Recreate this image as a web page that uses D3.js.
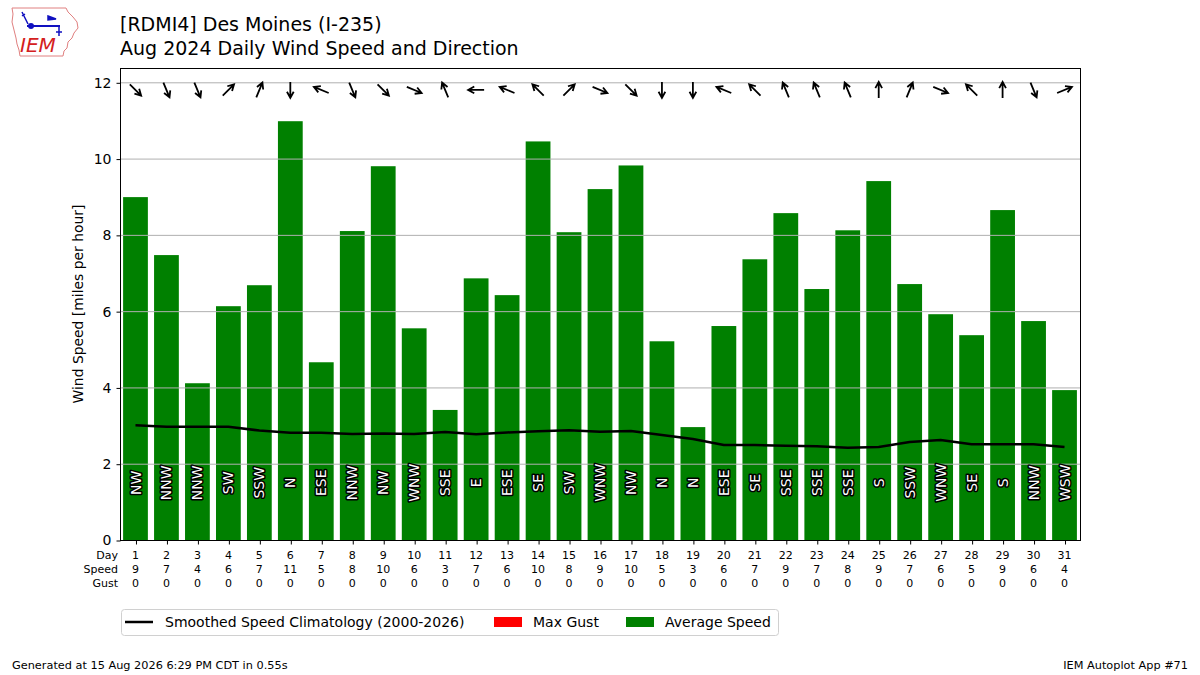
<!DOCTYPE html>
<html>
<head>
<meta charset="utf-8">
<script src="https://cdn.jsdelivr.net/npm/d3@7"></script>
<style>
  body { margin: 0; background: #fff; }
  text { font-family: "DejaVu Sans", sans-serif; }
</style>
</head>
<body>
<div id="chart-area"></div>
<script>
// Data
const days = [1, 2, 3, 4, 5, 6, 7, 8, 9, 10, 11, 12, 13, 14, 15, 16,
  17, 18, 19, 20, 21, 22, 23, 24, 25, 26, 27, 28, 29, 30, 31]
const avgSpeed = [8.99, 7.47, 4.11, 6.13, 6.68, 10.98, 4.66, 8.10, 9.80, 5.55,
  3.41, 6.86, 6.42, 10.45, 8.07, 9.20, 9.82, 5.21, 2.96, 5.61, 7.36, 8.57,
  6.58, 8.12, 9.41, 6.71, 5.92, 5.37, 8.65, 5.74, 3.93]
const maxGust = [0, 0, 0, 0, 0, 0, 0, 0, 0, 0, 0, 0, 0, 0, 0, 0,
  0, 0, 0, 0, 0, 0, 0, 0, 0, 0, 0, 0, 0, 0, 0]
const directions = ["NW", "NNW", "NNW", "SW", "SSW", "N", "ESE", "NNW", "NW", "WNW",
  "SSE", "E", "ESE", "SE", "SW", "WNW", "NW", "N", "N", "ESE", "SE", "SSE",
  "SSE", "SSE", "S", "SSW", "WNW", "SE", "S", "NNW", "WSW"]
const climo = [3.01, 2.97, 2.97, 2.97, 2.87, 2.81, 2.81, 2.78, 2.79, 2.78,
  2.83, 2.77, 2.82, 2.85, 2.88, 2.84, 2.86, 2.75, 2.65, 2.49, 2.49, 2.47,
  2.46, 2.42, 2.44, 2.57, 2.62, 2.51, 2.51, 2.51, 2.44]
const yTicks = [0, 2, 4, 6, 8, 10, 12]
const compass = ["N", "NNE", "NE", "ENE", "E", "ESE", "SE", "SSE",
  "S", "SSW", "SW", "WSW", "W", "WNW", "NW", "NNW"]

const WIDTH = 1200
const HEIGHT = 675
const PLOT = { LEFT: 120, RIGHT: 1080, TOP: 68, BOTTOM: 540 }

const svg = d3.select("#chart-area").append("svg")
  .attr("width", WIDTH)
  .attr("height", HEIGHT)

// Scales
const x = d3.scaleLinear()
  .domain([0.5, 31.5])
  .range([PLOT.LEFT, PLOT.RIGHT])
const y = d3.scaleLinear()
  .domain([0, 12.375])
  .range([PLOT.BOTTOM, PLOT.TOP])
const barW = (x(1.8) - x(1)) // 0.8 wide bars

// Bars
svg.append("g").selectAll("rect.avg")
  .data(days)
  .enter().append("rect")
    .attr("class", "avg")
    .attr("x", d => x(d) - barW / 2)
    .attr("width", barW)
    .attr("y", (d, i) => y(avgSpeed[i]))
    .attr("height", (d, i) => y(0) - y(avgSpeed[i]))
    .attr("fill", "#008000")

svg.append("g").selectAll("rect.gust")
  .data(days)
  .enter().append("rect")
    .attr("x", d => x(d) - barW / 2)
    .attr("width", barW)
    .attr("y", (d, i) => y(maxGust[i]))
    .attr("height", (d, i) => y(0) - y(maxGust[i]))
    .attr("fill", "red")

// Grid lines (drawn over the bars like in the reference)
svg.append("g").selectAll("line")
  .data(yTicks)
  .enter().append("line")
    .attr("x1", PLOT.LEFT)
    .attr("x2", PLOT.RIGHT)
    .attr("y1", d => y(d) + 0.5)
    .attr("y2", d => y(d) + 0.5)
    .attr("stroke", "#b0b0b0")
    .attr("stroke-width", 1)

// Climatology line
const line = d3.line()
  .x((d, i) => x(days[i]))
  .y(d => y(d))
svg.append("path")
  .datum(climo)
  .attr("d", line)
  .attr("fill", "none")
  .attr("stroke", "black")
  .attr("stroke-width", 2.5)
  .attr("stroke-linejoin", "round")

// Direction labels inside bars
svg.append("g").selectAll("text")
  .data(days)
  .enter().append("text")
    .attr("transform", d => `translate(${x(d)}, ${y(1.5)}) rotate(-90)`)
    .attr("text-anchor", "middle")
    .attr("dy", "0.36em")
    .attr("font-size", "14px")
    .attr("fill", "white")
    .attr("stroke", "black")
    .attr("stroke-width", 3)
    .attr("paint-order", "stroke")
    .attr("stroke-linejoin", "round")
    .text((d, i) => directions[i])

// Wind arrows, pointing where the wind blows to
const arrows = svg.append("g")
directions.forEach((dir, i) => {
  const deg = compass.indexOf(dir) * 22.5 + 180
  const rad = deg * Math.PI / 180
  const len = 16
  const ux = Math.sin(rad), uy = -Math.cos(rad)
  const cx = x(days[i]), cy = y(11.8)
  const x0 = cx - ux * len / 2, y0 = cy - uy * len / 2
  const x1 = cx + ux * len / 2, y1 = cy + uy * len / 2
  const h = 7, a = 0.5
  const hx1 = x1 - h * (ux * Math.cos(a) - uy * Math.sin(a))
  const hy1 = y1 - h * (uy * Math.cos(a) + ux * Math.sin(a))
  const hx2 = x1 - h * (ux * Math.cos(-a) - uy * Math.sin(-a))
  const hy2 = y1 - h * (uy * Math.cos(-a) + ux * Math.sin(-a))
  arrows.append("path")
    .attr("d", `M${x0},${y0}L${x1},${y1}M${hx1},${hy1}L${x1},${y1}L${hx2},${hy2}`)
    .attr("fill", "none")
    .attr("stroke", "black")
    .attr("stroke-width", 1.8)
})

// Frame
svg.append("rect")
  .attr("x", PLOT.LEFT + 0.5)
  .attr("y", PLOT.TOP + 0.5)
  .attr("width", PLOT.RIGHT - PLOT.LEFT)
  .attr("height", PLOT.BOTTOM - PLOT.TOP)
  .attr("fill", "none")
  .attr("stroke", "black")

// Y Axis
const yAxisCall = d3.axisLeft(y)
  .tickValues(yTicks)
  .tickSize(4)
  .tickPadding(5)
const yAxis = svg.append("g")
  .attr("transform", `translate(${PLOT.LEFT + 0.5}, 0.5)`)
  .call(yAxisCall)
yAxis.select(".domain").remove()
yAxis.selectAll("text")
  .attr("font-size", "14px")
  .attr("font-family", "DejaVu Sans")
  .attr("fill", "#000")

svg.append("text")
  .attr("transform", `translate(83, ${(PLOT.TOP + PLOT.BOTTOM) / 2}) rotate(-90)`)
  .attr("text-anchor", "middle")
  .attr("font-size", "13.9px")
  .text("Wind Speed [miles per hour]")

// X Axis ticks and three rows of labels
const xAxisCall = d3.axisBottom(x)
  .tickValues(days)
  .tickSize(4)
  .tickFormat("")
const xAxis = svg.append("g")
  .attr("transform", `translate(0.5, ${PLOT.BOTTOM + 0.5})`)
  .call(xAxisCall)
xAxis.select(".domain").remove()

const rows = [
  { name: "Day", vals: days.map(String) },
  { name: "Speed", vals: avgSpeed.map(d => d3.format(".0f")(d)) },
  { name: "Gust", vals: maxGust.map(d => d3.format(".0f")(d)) }
]
rows.forEach((row, r) => {
  const ty = 559 + r * 14
  svg.append("text")
    .attr("x", PLOT.LEFT - 2)
    .attr("y", ty)
    .attr("text-anchor", "end")
    .attr("font-size", "11px")
    .text(row.name)
  svg.append("g").selectAll("text")
    .data(row.vals)
    .enter().append("text")
      .attr("x", (d, i) => x(days[i]))
      .attr("y", ty)
      .attr("text-anchor", "middle")
      .attr("font-size", "11px")
      .text(d => d)
})

// Titles
svg.append("text")
  .attr("x", PLOT.LEFT)
  .attr("y", 31)
  .attr("font-size", "19px")
  .text("[RDMI4] Des Moines (I-235)")
svg.append("text")
  .attr("x", PLOT.LEFT)
  .attr("y", 55)
  .attr("font-size", "19px")
  .text("Aug 2024 Daily Wind Speed and Direction")

// Legend
const legend = svg.append("g")
  .attr("transform", "translate(121, 609)")
legend.append("rect")
  .attr("x", 0.5).attr("y", 0.5)
  .attr("width", 657).attr("height", 26)
  .attr("rx", 3)
  .attr("fill", "white")
  .attr("stroke", "#d0d0d0")
legend.append("line")
  .attr("x1", 4).attr("x2", 32)
  .attr("y1", 13).attr("y2", 13)
  .attr("stroke", "black").attr("stroke-width", 2.5)
legend.append("text")
  .attr("x", 44).attr("y", 18)
  .attr("font-size", "14px")
  .text("Smoothed Speed Climatology (2000-2026)")
legend.append("rect")
  .attr("x", 373).attr("y", 8).attr("width", 28).attr("height", 10)
  .attr("fill", "red")
legend.append("text")
  .attr("x", 412).attr("y", 18)
  .attr("font-size", "14px")
  .text("Max Gust")
legend.append("rect")
  .attr("x", 505).attr("y", 8).attr("width", 28).attr("height", 10)
  .attr("fill", "#008000")
legend.append("text")
  .attr("x", 544).attr("y", 18)
  .attr("font-size", "14px")
  .text("Average Speed")

// Footer
svg.append("text")
  .attr("x", 12).attr("y", 669)
  .attr("font-size", "11.3px")
  .text("Generated at 15 Aug 2026 6:29 PM CDT in 0.55s")
svg.append("text")
  .attr("x", 1188).attr("y", 669)
  .attr("text-anchor", "end")
  .attr("font-size", "11.3px")
  .text("IEM Autoplot App #71")

// IEM logo
const logo = svg.append("g")
logo.append("path")
  .attr("d", "M12,8 L66,8 L68,12 L73,17 L77,22 L78,28 L74,33 L72,38 L68,42 L67,48 L64,51 L63,56 L20,56 L19,50 L17,44 L16,38 L14,30 L12,22 L13,14 Z")
  .attr("fill", "white")
  .attr("stroke", "#e08080")
  .attr("stroke-width", 1)
logo.append("line")
  .attr("x1", 27).attr("x2", 60).attr("y1", 26).attr("y2", 26)
  .attr("stroke", "#1010c0").attr("stroke-width", 2)
logo.append("circle")
  .attr("cx", 31).attr("cy", 26).attr("r", 3)
  .attr("fill", "#1010c0")
logo.append("path")
  .attr("d", "M22,12 L26,20 L28,24 M22,16 L25,14 M48,16 L56,19 L48,20 Z M59,26 L59,36 M56,32 L62,32")
  .attr("fill", "#1010c0").attr("stroke", "#1010c0").attr("stroke-width", 1.5)
logo.append("text")
  .attr("x", 20).attr("y", 52)
  .attr("font-family", "Liberation Serif, serif")
  .attr("font-style", "italic")
  .attr("font-size", "20px")
  .attr("fill", "#d42020")
  .text("IEM")
</script>
</body>
</html>
